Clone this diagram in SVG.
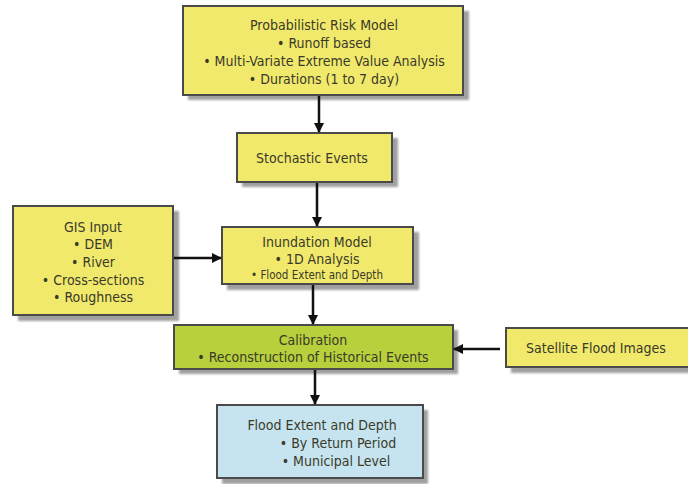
<svg xmlns="http://www.w3.org/2000/svg" width="688" height="484" viewBox="0 0 688 484">
<defs>
<marker id="ah" viewBox="0 0 10 10" refX="9" refY="5" markerWidth="4" markerHeight="4" orient="auto">
<path d="M0,0 L10,5 L0,10 z" fill="#111"/>
</marker>
<filter id="blur" x="-10%" y="-10%" width="120%" height="130%"><feGaussianBlur stdDeviation="1.2"/></filter>
</defs>
<style>
.shadow{fill:#a0a0a0;filter:url(#blur)}
.box{stroke:#4a4a4a;stroke-width:2}
.y{fill:#f1e96c}
.g{fill:#b7d03c}
.b{fill:#c6e4ef}
text{font-family:"DejaVu Sans Condensed","DejaVu Sans",sans-serif;font-size:14px;fill:#3a3a2a;text-anchor:middle}
.sm{font-size:11.5px}
.conn line{stroke:#111;stroke-width:2.5;marker-end:url(#ah)}
</style>
<rect width="688" height="484" fill="#ffffff"/>

<g id="risk-model">
<rect class="shadow" x="188" y="11" width="281" height="89"/>
<rect class="box y" x="183" y="6" width="280" height="89"/>
<text x="324" y="30">Probabilistic Risk Model</text>
<text x="324" y="48">• Runoff based</text>
<text x="324" y="66">• Multi-Variate Extreme Value Analysis</text>
<text x="324" y="84">• Durations (1 to 7 day)</text>
</g>

<g id="stochastic">
<rect class="shadow" x="242" y="138" width="156" height="49"/>
<rect class="box y" x="237" y="133" width="155" height="49"/>
<text x="312" y="163">Stochastic Events</text>
</g>

<g id="gis">
<rect class="shadow" x="18" y="211" width="161" height="110"/>
<rect class="box y" x="13" y="206" width="160" height="109"/>
<text x="93" y="232">GIS Input</text>
<text x="93" y="249">• DEM</text>
<text x="93" y="267">• River</text>
<text x="93" y="285">• Cross-sections</text>
<text x="93" y="302">• Roughness</text>
</g>

<g id="inundation">
<rect class="shadow" x="227" y="232" width="192" height="58"/>
<rect class="box y" x="222" y="227" width="191" height="57"/>
<text x="317" y="247">Inundation Model</text>
<text x="317" y="264">• 1D Analysis</text>
<text class="sm" x="317" y="279">• Flood Extent and Depth</text>
</g>

<g id="calibration">
<rect class="shadow" x="179" y="330" width="279" height="44"/>
<rect class="box g" x="174" y="325" width="279" height="44"/>
<text x="313" y="345">Calibration</text>
<text x="313" y="362">• Reconstruction of Historical Events</text>
</g>

<g id="satellite">
<rect class="shadow" x="511" y="333" width="190" height="40"/>
<rect class="box y" x="506" y="328" width="190" height="39"/>
<text x="596" y="353">Satellite Flood Images</text>
</g>

<g id="flood-extent">
<rect class="shadow" x="222" y="410" width="206" height="74"/>
<rect class="box b" x="217" y="405" width="206" height="73"/>
<text x="322" y="430">Flood Extent and Depth</text>
<text x="338" y="448">• By Return Period</text>
<text x="336" y="466">• Municipal Level</text>
</g>

<g id="connectors" class="conn">
<line x1="319" y1="96" x2="319" y2="132"/>
<line x1="317" y1="183" x2="317" y2="226"/>
<line x1="174" y1="258" x2="221" y2="258"/>
<line x1="313" y1="285" x2="313" y2="324"/>
<line x1="315" y1="370" x2="315" y2="404"/>
<line x1="500" y1="349" x2="454" y2="349"/>
</g>
</svg>
